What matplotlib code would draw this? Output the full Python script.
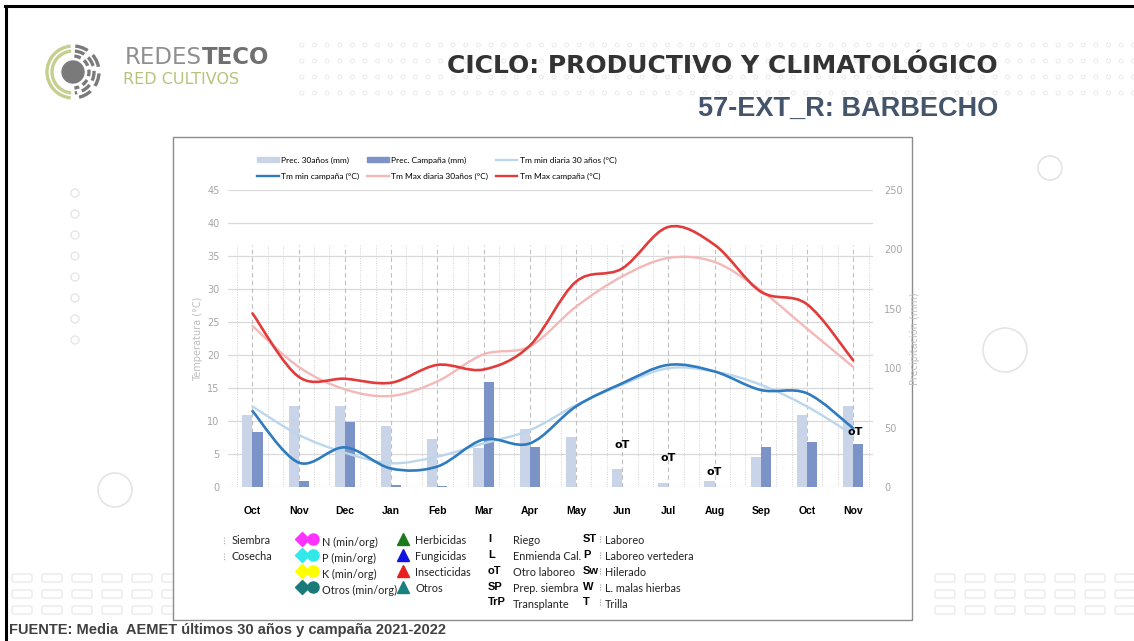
import numpy as np
import matplotlib
matplotlib.use("Agg")
import matplotlib.pyplot as plt
import matplotlib.patches as patches
from matplotlib.path import Path
from matplotlib.lines import Line2D

#____________________________________________________________________________________________________
# data
months = ['Oct', 'Nov', 'Dec', 'Jan', 'Feb', 'Mar', 'Apr', 'May', 'Jun', 'Jul', 'Aug', 'Sep', 'Oct', 'Nov']
prec_30 = [61, 68, 68, 51, 40, 33, 49, 42, 15, 3, 5, 25, 61, 68]
prec_camp = [46.5, 5, 55, 1.5, 0.5, 88.5, 34, 0, 0, 0, 0, 33.5, 38, 36]
tmin_30 = [12.2, 7.9, 5.2, 3.6, 4.6, 6.6, 8.6, 12.4, 15.5, 18.0, 17.5, 15.5, 12.2, 7.9]
tmin_camp = [11.5, 3.7, 6.0, 2.8, 3.1, 7.2, 6.6, 12.2, 15.7, 18.5, 17.5, 14.7, 14.2, 8.9]
tmax_30 = [24.4, 18.2, 14.8, 13.8, 16.0, 20.1, 21.3, 27.3, 31.9, 34.7, 34.1, 29.8, 24.0, 18.2]
tmax_camp = [26.3, 16.7, 16.4, 15.8, 18.5, 17.8, 21.4, 31.1, 33.1, 39.4, 36.7, 29.6, 27.7, 19.2]
# "oT" (otro laboreo) operations: month index and label height (°C)
ot_month = [8.0, 9.0, 10.0, 13.05]
ot_height = [6.4, 4.4, 2.3, 8.4]

SMALL = 'Lato'

#____________________________________________________________________________________________________
# helpers
def smooth_path(xs, ys):
    # excel-like smoothed line: cubic bezier through every point
    pts = np.column_stack([xs, ys]).astype(float)
    n = len(pts)
    verts = [pts[0]]
    codes = [Path.MOVETO]
    for i in range(n - 1):
        p0 = pts[i - 1] if i > 0 else pts[i]
        p1 = pts[i]
        p2 = pts[i + 1]
        p3 = pts[i + 2] if i + 2 < n else pts[i + 1]
        verts += [p1 + (p2 - p0) / 6.0, p2 - (p3 - p1) / 6.0, p2]
        codes += [Path.CURVE4] * 3
    return Path(verts, codes)

def px(x, y):
    return x / 1134.0, 1 - y / 641.0

#____________________________________________________________________________________________________
fig = plt.figure(figsize=(11.34, 6.41), dpi=100)
fig.patch.set_facecolor('white')

# background / decoration layer in pixel coordinates
bg = fig.add_axes([0, 0, 1, 1])
bg.set_xlim(0, 1134)
bg.set_ylim(641, 0)
bg.axis('off')

# frame lines
bg.plot([5, 1134], [6, 6], color='black', lw=2.2)
bg.plot([6, 6], [6, 641], color='black', lw=2.2)

# dotted pattern behind the title
for yy in [45, 61, 77, 93]:
    xx = np.arange(302, 1134, 12.6)
    bg.scatter(xx, [yy] * len(xx), s=8, facecolors='none', edgecolors='#e6e6e6', linewidths=0.6)

# faint circles
for (cx, cy, r) in [(1005, 350, 22), (1050, 168, 12), (115, 490, 17)]:
    bg.add_patch(patches.Circle((cx, cy), r, fill=False, ec='#e4e4e4', lw=1.2))
for cy in [193, 214, 235, 256, 277, 298, 319, 340]:
    bg.add_patch(patches.Circle((75, cy), 4, fill=False, ec='#e6e6e6', lw=1.0))
for cy in [578, 594, 610]:
    for cx in list(range(12, 170, 30)) + list(range(935, 1134, 30)):
        bg.add_patch(patches.FancyBboxPatch((cx, cy - 4), 20, 8, boxstyle='round,pad=0,rounding_size=2',
                                            fill=False, ec='#e8e8e8', lw=0.9))

# logo
bg.add_patch(patches.Circle((73, 72), 11, color='#7a7a7a'))
for r, st in [(16, (0, (2, 1.2))), (21, (0, (3, 1.5))), (26, (0, (4, 2)))]:
    bg.add_patch(patches.Arc((73, 72), 2 * r, 2 * r, theta1=-85, theta2=85, ec='#7a7a7a', lw=2.4, ls=st))
for r in [21, 26]:
    bg.add_patch(patches.Arc((73, 72), 2 * r, 2 * r, theta1=95, theta2=265, ec='#c6cf8f', lw=2.4))
bg.text(202, 58, 'REDES', fontsize=16.5, color='#8f8f8f', va='center', ha='right', family='DejaVu Sans')
bg.text(202, 58, 'TECO', fontsize=16.5, color='#707070', va='center', ha='left', fontweight='bold', family='DejaVu Sans')
bg.text(123, 80, 'RED CULTIVOS', fontsize=11.5, color='#b8c27b', va='center', ha='left', family='DejaVu Sans')

# titles
bg.text(998, 66, 'CICLO: PRODUCTIVO Y CLIMATOLÓGICO', fontsize=18, fontweight='bold', color='#333333',
        ha='right', va='center', family='DejaVu Sans')
bg.text(998, 109, '57-EXT_R: BARBECHO', fontsize=19.5, fontweight='bold', color='#44546a',
        ha='right', va='center', family='Liberation Sans')
bg.text(9, 630, 'FUENTE: Media  AEMET últimos 30 años y campaña 2021-2022', fontsize=10.5, fontweight='bold',
        color='#404040', ha='left', va='center', family='Liberation Sans')

# chart box
bg.add_patch(patches.Rectangle((173, 137), 739, 483, fc='white', ec='#8c8c8c', lw=1.0))

#____________________________________________________________________________________________________
# chart axes
l, b = px(228, 487)
r, t = px(873, 190)
ax = fig.add_axes([l, b, r - l, t - b])
ax.patch.set_visible(False)
x = np.arange(len(months))
xlim = (-0.53, 13.43)
ax.set_xlim(*xlim)
ax.set_ylim(0, 45)
ax.set_yticks(np.arange(0, 46, 5))
for v in np.arange(0, 46, 5):
    ax.axhline(v, color='#d9d9d9', lw=0.9, zorder=0)
# decade grid (dotted) and month grid (dashed)
for i in x:
    ax.vlines(i, 0, 36.7, color='#bfbfbf', lw=0.8, ls=(0, (4, 3)), zorder=0)
for k in np.arange(-1, 41):
    xx = k / 3.0
    if k % 3 != 0 and xlim[0] < xx < 13.34:
        ax.vlines(xx, 0, 36.7, color='#d0d0d0', lw=0.7, ls=(0, (1, 1.5)), zorder=0)
ax.set_xticks(x)
ax.set_xticklabels(months, fontsize=7.5, fontweight='bold', color='black', family='Liberation Sans')
ax.tick_params(axis='x', length=0, pad=14)
ax.tick_params(axis='y', length=0, pad=6, labelsize=7, labelcolor='#a6a6a6')
for s in ax.spines.values():
    s.set_visible(False)
ax.set_ylabel('Temperatura (°C)', fontsize=7, color='#bfbfbf', labelpad=3)

# precipitation bars
ax2 = ax.twinx()
ax2.set_ylim(0, 250)
ax2.set_xlim(*xlim)
w = 0.22
ax2.bar(x - w / 2, prec_30, width=w, color='#c9d4e8', zorder=2)
ax2.bar(x + w / 2, prec_camp, width=w, color='#7b93c6', zorder=2)
ax2.set_yticks(np.arange(0, 251, 50))
ax2.tick_params(axis='y', length=0, pad=8, labelsize=7, labelcolor='#a6a6a6')
for s in ax2.spines.values():
    s.set_visible(False)
ax2.set_ylabel('Precipitación (mm)', fontsize=7, color='#bfbfbf', labelpad=5)

# temperature lines on top
ax3 = ax.twinx()
ax3.set_ylim(0, 45)
ax3.set_xlim(*xlim)
ax3.axis('off')
series = [
    (tmin_30, '#bcd6ec', 1.7),
    (tmax_30, '#f4b8b8', 1.7),
    (tmin_camp, '#2f7bbf', 1.9),
    (tmax_camp, '#e23b3b', 1.9),
]
for ys, col, lw in series:
    ax3.add_patch(patches.PathPatch(smooth_path(x, ys), fill=False, ec=col, lw=lw, capstyle='round'))

for xo, yo in zip(ot_month, ot_height):
    ax3.text(xo, yo, 'oT', fontsize=8, fontweight='bold', color='black', ha='center', va='center',
             family='DejaVu Sans')

# legend at top
h_p30 = patches.Patch(color='#c9d4e8', label='Prec. 30años (mm)')
h_pc = patches.Patch(color='#7b93c6', label='Prec. Campaña (mm)')
h_n30 = Line2D([], [], color='#bcd6ec', lw=1.7, label='Tm min diaria 30 años (°C)')
h_nc = Line2D([], [], color='#2f7bbf', lw=1.7, label='Tm min campaña (°C)')
h_x30 = Line2D([], [], color='#f4b8b8', lw=1.7, label='Tm Max diaria 30años (°C)')
h_xc = Line2D([], [], color='#e23b3b', lw=1.7, label='Tm Max campaña (°C)')
fig.legend(handles=[h_p30, h_nc, h_pc, h_x30, h_n30, h_xc], loc='center',
           bbox_to_anchor=px(437, 168), ncol=3, frameon=False,
           prop={'family': SMALL, 'size': 6.0}, handlelength=2.6, handleheight=0.5,
           columnspacing=0.9, handletextpad=0.3, labelspacing=1.05)

#____________________________________________________________________________________________________
# lower legend (operations)
lf = {'family': SMALL, 'size': 7.8, 'va': 'center', 'ha': 'left', 'color': '#222222'}
rows = [541, 557, 573, 589, 604]

for yy, lab in zip(rows[:2], ['Siembra', 'Cosecha']):
    bg.plot([224, 224], [yy - 4, yy + 3], color='#b0a8a8', lw=0.8, ls=(0, (1, 1.5)))
    bg.text(232, yy, lab, **lf)

fert = [('N (min/org)', '#ff33ff'), ('P (min/org)', '#33e8e8'), ('K (min/org)', '#ffff00'),
        ('Otros (min/org)', '#1a7a7a')]
for yy, (lab, col) in zip(rows, fert):
    bg.plot(302, yy - 2, marker='D', ms=7.5, color=col, mec=col)
    bg.plot(313, yy - 2, marker='o', ms=8, color=col, mec=col)
    bg.text(322, yy + 1, lab, **lf)

trat = [('Herbicidas', '#1b7a1b'), ('Fungicidas', '#1414e0'), ('Insecticidas', '#e82020'), ('Otros', '#1a8080')]
for yy, (lab, col) in zip(rows, trat):
    bg.plot(403, yy - 2, marker='^', ms=8, color=col, mec=col)
    bg.text(415, yy, lab, **lf)

codes1 = [('I', 'Riego'), ('L', 'Enmienda Cal.'), ('oT', 'Otro laboreo'), ('SP', 'Prep. siembra'),
          ('TrP', 'Transplante')]
for yy, (c, lab) in zip(rows, codes1):
    bg.text(488, yy - 2, c, fontsize=8, fontweight='bold', va='center', ha='left', family='Liberation Sans')
    bg.text(513, yy, lab, **lf)

codes2 = [('ST', 'Laboreo'), ('P', 'Laboreo vertedera'), ('Sw', 'Hilerado'), ('W', 'L. malas hierbas'),
          ('T', 'Trilla')]
for yy, (c, lab) in zip(rows, codes2):
    bg.text(583, yy - 2, c, fontsize=8, fontweight='bold', va='center', ha='left', family='Liberation Sans')
    bg.plot([600, 600], [yy - 5, yy + 1], color='#999999', lw=0.8, ls=(0, (1, 1.2)))
    bg.text(605, yy, lab, **lf)

fig.savefig('out.png', dpi=100, facecolor='white')
